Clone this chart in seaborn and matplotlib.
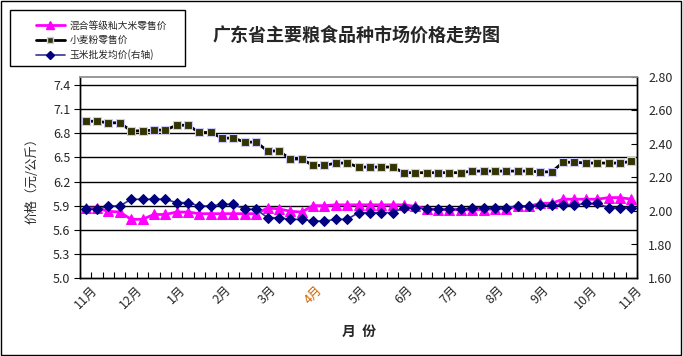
import numpy as np
import pandas as pd
import matplotlib
matplotlib.use("Agg")
import matplotlib.pyplot as plt
from matplotlib.lines import Line2D
from matplotlib.patches import Rectangle
import seaborn as sns

# weekly prices, 49 observations (Nov -> Nov)
rice = [5.87, 5.87, 5.83, 5.82, 5.73, 5.73, 5.79, 5.79, 5.82, 5.82, 5.80, 5.80,
        5.80, 5.80, 5.80, 5.80, 5.87, 5.86, 5.83, 5.82, 5.90, 5.90, 5.91, 5.91,
        5.91, 5.91, 5.91, 5.91, 5.91, 5.89, 5.86, 5.85, 5.85, 5.85, 5.85, 5.85,
        5.86, 5.86, 5.89, 5.89, 5.93, 5.93, 5.98, 5.98, 5.98, 5.98, 6.00, 6.00,
        5.98]
wheat = [6.95, 6.95, 6.93, 6.93, 6.83, 6.83, 6.84, 6.84, 6.90, 6.90, 6.81, 6.81,
         6.74, 6.74, 6.69, 6.69, 6.58, 6.58, 6.48, 6.48, 6.40, 6.40, 6.43, 6.43,
         6.38, 6.38, 6.38, 6.38, 6.31, 6.31, 6.31, 6.31, 6.31, 6.31, 6.33, 6.33,
         6.33, 6.33, 6.33, 6.33, 6.32, 6.32, 6.44, 6.44, 6.43, 6.43, 6.43, 6.43,
         6.45]
corn = [2.01, 2.01, 2.03, 2.03, 2.07, 2.07, 2.07, 2.07, 2.05, 2.05, 2.03, 2.03,
        2.04, 2.04, 2.01, 2.01, 1.96, 1.96, 1.95, 1.95, 1.94, 1.94, 1.95, 1.95,
        1.99, 1.99, 1.99, 1.99, 2.02, 2.02, 2.01, 2.01, 2.01, 2.01, 2.02, 2.02,
        2.02, 2.02, 2.03, 2.03, 2.035, 2.035, 2.035, 2.035, 2.045, 2.045, 2.02, 2.02,
        2.02]
month_labels = ["11月", "12月", "1月", "2月", "3月", "4月", "5月",
                "6月", "7月", "8月", "9月", "10月", "11月"]
left_ticks = [5.0, 5.3, 5.6, 5.9, 6.2, 6.5, 6.8, 7.1, 7.4]
right_ticks = [1.6, 1.8, 2.0, 2.2, 2.4, 2.6, 2.8]

names = ["混合等级籼大米零售价", "小麦粉零售价", "玉米批发均价(右轴)"]

sns.set_theme(style="white")
plt.rcParams["font.family"] = ["Noto Sans CJK SC", "DejaVu Sans"]

df = pd.DataFrame({"week": np.arange(len(rice)), "rice": rice,
                   "wheat": wheat, "corn": corn})

fig = plt.figure(figsize=(6.83, 3.56), dpi=100)
ax = fig.add_axes([80 / 683, 1 - 278 / 356, 557 / 683, 201 / 356])
ax2 = ax.twinx()

sns.lineplot(data=df, x="week", y="wheat", ax=ax, color="black", lw=2,
             marker="s", markersize=6, markerfacecolor="#333300",
             markeredgecolor="#ccccff", markeredgewidth=0.8, zorder=3)
sns.lineplot(data=df, x="week", y="rice", ax=ax, color="#ff00ff", lw=2,
             marker="^", markersize=6.5, markerfacecolor="#ff00ff",
             markeredgecolor="#ff00ff", zorder=3)
sns.lineplot(data=df, x="week", y="corn", ax=ax2, color="#333399", lw=1.2,
             marker="D", markersize=5, markerfacecolor="#000080",
             markeredgecolor="#000080", zorder=3)

n = len(rice)
ax.set_xlim(-0.5, n - 0.5)
ax.set_ylim(5.0, 7.5)
ax2.set_ylim(1.6, 2.8)
ax.set_yticks(left_ticks)
ax.set_yticklabels([f"{v:.1f}" for v in left_ticks], fontsize=9)
ax2.set_yticks(right_ticks)
ax2.set_yticklabels([f"{v:.2f}" for v in right_ticks], fontsize=9)
for v in left_ticks[1:]:
    ax.axhline(v, color="black", lw=1, zorder=1)

ax.set_xticks(np.arange(0, n, 4))
ax.set_xticklabels(month_labels, rotation=45, ha="center", va="top", fontsize=9)
ax.get_xticklabels()[5].set_color("#cc6600")
ax.set_xticks(np.arange(-0.5, n, 1), minor=True)
ax.tick_params(axis="x", which="major", length=0, pad=4)
ax.tick_params(axis="x", which="minor", direction="in", length=4, width=0.8,
               color="black", bottom=True)
ax.tick_params(axis="y", direction="out", length=4, width=0.8, color="black",
               left=True, pad=3)
ax2.tick_params(axis="y", direction="in", length=4, width=0.8, color="black",
                right=True, pad=8)

ax.set_xlabel("月  份", fontsize=10, fontweight="bold", labelpad=10)
ax.set_ylabel("价格（元/公斤）", fontsize=9, labelpad=10)
ax2.set_ylabel("")

for a in (ax, ax2):
    for side in ("left", "bottom", "right"):
        a.spines[side].set_color("black")
        a.spines[side].set_linewidth(1)
    a.spines["top"].set_color("#999999")
    a.grid(False)

fig.text(357 / 683, 1 - 35 / 356, "广东省主要粮食品种市场价格走势图",
         ha="center", va="center", fontsize=13, fontweight="bold")

handles = [
    Line2D([], [], color="#ff00ff", lw=2, marker="^", markersize=6,
           markerfacecolor="#ff00ff"),
    Line2D([], [], color="black", lw=2, marker="s", markersize=5,
           markerfacecolor="#333300", markeredgecolor="#ccccff"),
    Line2D([], [], color="#333399", lw=1.2, marker="D", markersize=4,
           markerfacecolor="#000080", markeredgecolor="#000080"),
]
leg = fig.legend(handles, names, loc="upper left",
                 bbox_to_anchor=(28 / 683, 1 - 13 / 356), fontsize=7,
                 frameon=False, handlelength=3, borderpad=0.3,
                 labelspacing=0.45, handletextpad=0.5)

# legend frame drawn separately (wider than the entries, as in the original)
fig.patches.append(Rectangle((10 / 683, 1 - 66 / 356), 175 / 683, 56 / 356,
                             transform=fig.transFigure, fill=False,
                             edgecolor="black", lw=1))
fig.patches.append(Rectangle((0.002, 0.004), 0.995, 0.992, transform=fig.transFigure,
                             fill=False, edgecolor="black", lw=1))

fig.savefig("out.png", dpi=100)
